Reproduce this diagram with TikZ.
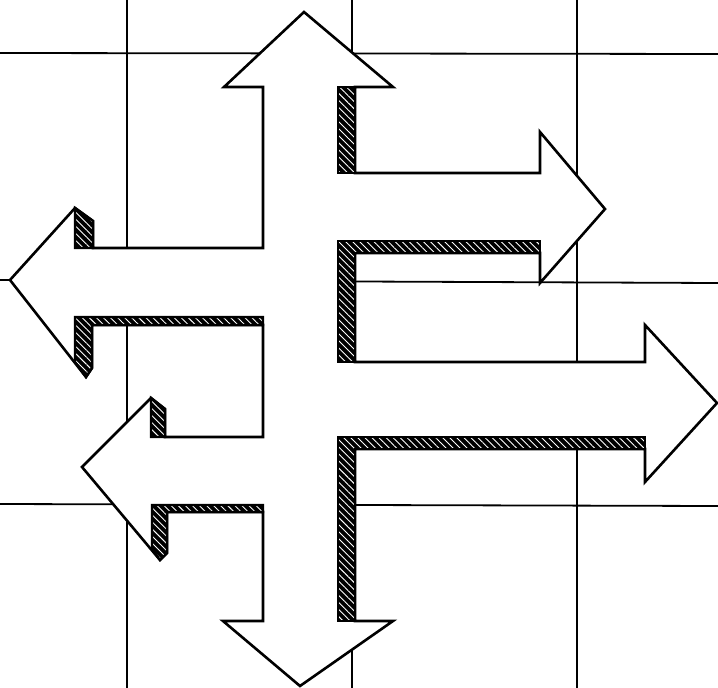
\documentclass[tikz,border=0pt]{standalone}
\usetikzlibrary{patterns.meta}
\tikzset{
  gridline/.style={line width=1.8pt, black},
  crossshape/.style={draw=black, fill=white, line width=2.6pt, line join=miter},
  hatchbox/.style={fill=black,
    postaction={pattern={Lines[angle=-45,distance=5pt,line width=0.9pt]}, pattern color=white},
    postaction={draw=black, line width=2.4pt, line join=miter}}
}
\begin{document}
\begin{tikzpicture}[x=1pt,y=-1pt]
\useasboundingbox (0,0) rectangle (718,688);
\fill[white] (0,0) rectangle (718,688);
% grid
\draw[gridline] (127,0) -- (127,688);
\draw[gridline] (352,0) -- (352,688);
\draw[gridline] (577,0) -- (577,688);
\draw[gridline] (0,53) -- (718,54);
\draw[gridline] (0,280) -- (718,283);
\draw[gridline] (0,504) -- (718,506);
% main cross of arrows
\filldraw[crossshape] (304,12) -- (393,87) -- (355,87) -- (355,173) -- (540,173) -- (540,132)
  -- (605,209) -- (540,283) -- (540,253) -- (355,253) -- (355,362) -- (645,362) -- (645,325)
  -- (717,403) -- (645,482) -- (645,449) -- (355,449) -- (355,621) -- (393,621) -- (300,686)
  -- (223,621) -- (263,621) -- (263,512) -- (167,512) -- (167,553) -- (160,560) -- (82,467)
  -- (151,398) -- (165,409) -- (165,437) -- (263,437) -- (263,325) -- (92,325) -- (92,368)
  -- (86,377) -- (10,280) -- (75,208) -- (93,221) -- (93,248) -- (263,248) -- (263,87)
  -- (224,87) -- cycle;
% hatched depth faces
\path[hatchbox] (338,87) rectangle (355,173);
\path[hatchbox] (338,241) -- (540,241) -- (540,253) -- (355,253) -- (355,362) -- (338,362) -- cycle;
\path[hatchbox] (338,437) -- (645,437) -- (645,449) -- (355,449) -- (355,621) -- (338,621) -- cycle;
\path[hatchbox] (75,208) -- (93,221) -- (93,248) -- (75,248) -- cycle;
\path[hatchbox] (75,317) -- (263,317) -- (263,325) -- (92,325) -- (92,368) -- (86,377) -- (75,362) -- cycle;
\path[hatchbox] (151,398) -- (165,409) -- (165,437) -- (151,437) -- cycle;
\path[hatchbox] (152,505) -- (263,505) -- (263,512) -- (167,512) -- (167,553) -- (160,560) -- (152,549) -- cycle;
\end{tikzpicture}
\end{document}
